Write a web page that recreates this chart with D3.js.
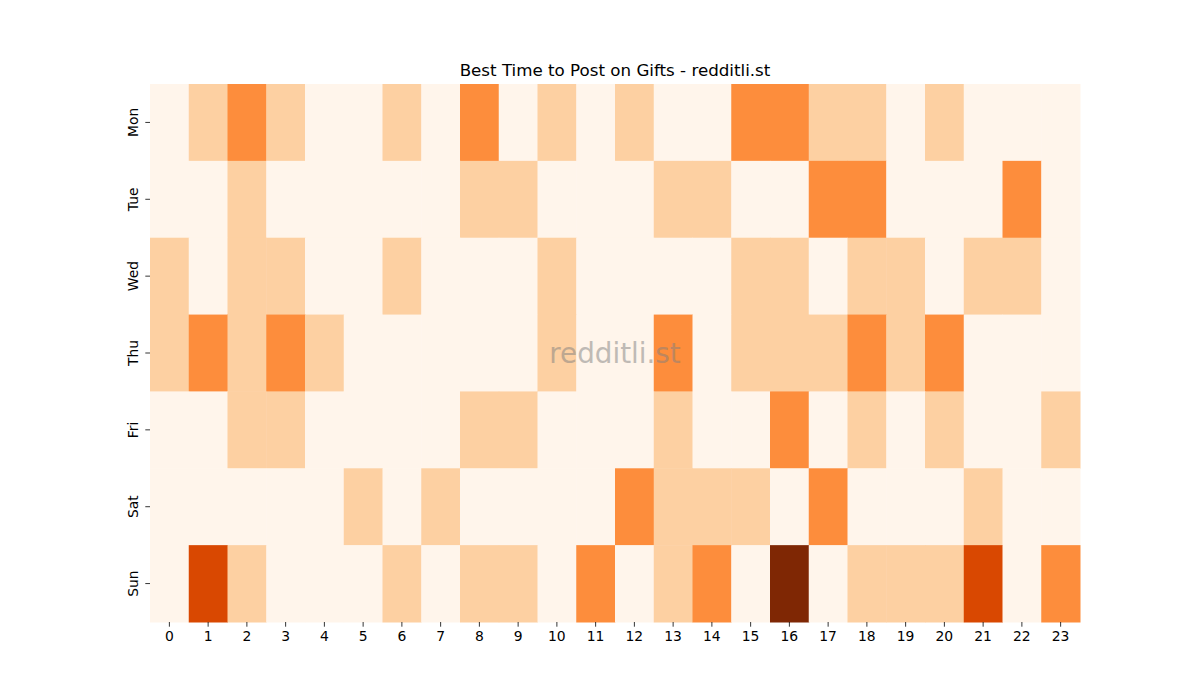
<!DOCTYPE html>
<html>
<head>
<meta charset="utf-8">
<script src="https://cdn.jsdelivr.net/npm/d3@7"></script>
<style>
  body { margin: 0; background: #fff; }
  svg text { font-family: "DejaVu Sans", sans-serif; fill: #000; }
  .axis path { display: none; }
  .axis line { stroke: #000; stroke-width: 0.8; }
</style>
</head>
<body>
<svg id="chart"></svg>
<script>
// activity level per day (rows) and hour (columns)
const days = ['Mon', 'Tue', 'Wed', 'Thu', 'Fri', 'Sat', 'Sun'];
const hours = d3.range(24);
const mon = [0,1,2,1,0,0,1,0,2,0,1,0,1,0,0,2,2,1,1,0,1,0,0,0];
const tue = [0,0,1,0,0,0,0,0,1,1,0,0,0,1,1,0,0,2,2,0,0,0,2,0];
const wed = [1,0,1,1,0,0,1,0,0,0,1,0,0,0,0,1,1,0,1,1,0,1,1,0];
const thu = [1,2,1,2,1,0,0,0,0,0,1,0,0,2,0,1,1,1,2,1,2,0,0,0];
const fri = [0,0,1,1,0,0,0,0,1,1,0,0,0,1,0,0,2,0,1,0,1,0,0,1];
const sat = [0,0,0,0,0,1,0,1,0,0,0,0,2,1,1,1,0,2,0,0,0,1,0,0];
const sun = [0,3,1,0,0,0,1,0,1,1,0,2,0,1,2,0,4,0,1,1,1,3,0,2];
const rows = [mon, tue, wed, thu, fri, sat, sun];

const config = {
    containerWidth: 1200,
    containerHeight: 700,
    margin: {top: 84, right: 120, bottom: 78, left: 150}
};
const width = config.containerWidth - config.margin.left - config.margin.right;
const height = config.containerHeight - config.margin.top - config.margin.bottom;

const cells = [];
rows.forEach((r, i) => r.forEach((v, h) => cells.push({day: days[i], hour: h, value: v})));

const xScale = d3.scaleBand().domain(hours).range([0, width]);
const yScale = d3.scaleBand().domain(days).range([0, height]);
const oranges = d3.schemeOranges[9];
const colorScale = d3.scaleLinear()
    .domain([0, 1, 2, 3, 4])
    .range([oranges[0], oranges[2], oranges[4], oranges[6], oranges[8]]);

const svg = d3.select('#chart')
    .attr('width', config.containerWidth)
    .attr('height', config.containerHeight);

const chart = svg.append('g')
    .attr('transform', `translate(${config.margin.left},${config.margin.top})`);

chart.selectAll('.cell')
    .data(cells)
  .join('rect')
    .attr('class', 'cell')
    .attr('x', d => xScale(d.hour))
    .attr('y', d => yScale(d.day))
    .attr('width', xScale.bandwidth() + 0.5)
    .attr('height', yScale.bandwidth() + 0.5)
    .attr('fill', d => colorScale(d.value));

// axes
const xAxisG = chart.append('g')
    .attr('class', 'axis x-axis')
    .attr('transform', `translate(0,${height})`)
    .call(d3.axisBottom(xScale).tickSize(4.7).tickPadding(4));
xAxisG.selectAll('text').style('font-size', '13.9px');

const yAxisG = chart.append('g')
    .attr('class', 'axis y-axis')
    .call(d3.axisLeft(yScale).tickSize(4.7).tickPadding(4));
yAxisG.selectAll('text')
    .style('font-size', '13.9px')
    .attr('text-anchor', 'middle')
    .attr('dy', 0)
    .attr('transform', 'translate(-12,0) rotate(-90)')
    .attr('x', 0);

// title
svg.append('text')
    .attr('x', config.margin.left + width / 2)
    .attr('y', 76)
    .attr('text-anchor', 'middle')
    .style('font-size', '16.7px')
    .text('Best Time to Post on Gifts - redditli.st');

// watermark
chart.append('text')
    .attr('x', width / 2)
    .attr('y', height / 2)
    .attr('text-anchor', 'middle')
    .attr('dominant-baseline', 'central')
    .style('font-size', '27.8px')
    .style('fill', '#808080')
    .style('opacity', 0.5)
    .text('redditli.st');
</script>
</body>
</html>
